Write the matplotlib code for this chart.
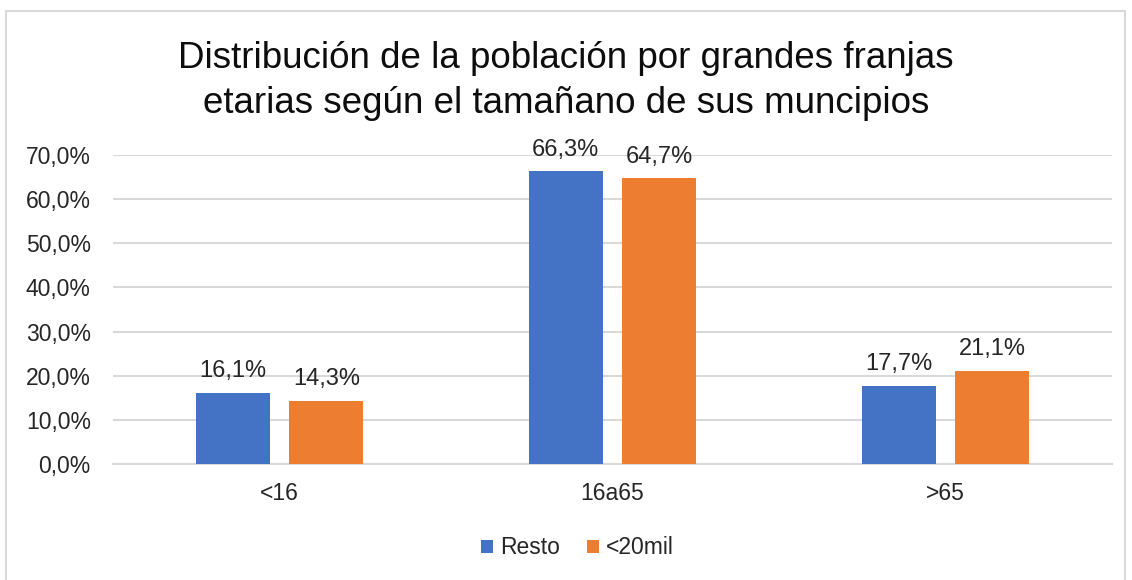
import numpy as np
import matplotlib
matplotlib.use("Agg")
import matplotlib.pyplot as plt
from matplotlib.patches import Rectangle

categories = ["<16", "16a65", ">65"]
resto = [16.1, 66.3, 17.7]
menos_20mil = [14.3, 64.7, 21.1]
series_names = ["Resto", "<20mil"]
yticks = [0, 10, 20, 30, 40, 50, 60, 70]

plt.rcParams['font.family'] = ['Liberation Sans', 'DejaVu Sans']

blue = "#4472C4"
orange = "#ED7D31"
grid_c = "#D9D9D9"
txt_c = "#262626"

fig = plt.figure(figsize=(11.32, 5.8), dpi=100)
# outer chart frame
fig.patches.append(Rectangle((6 / 1132, -0.01), 1119 / 1132, 1 - 11 / 580 + 0.01,
                             transform=fig.transFigure, fill=False,
                             edgecolor=grid_c, linewidth=1.5))

ax = fig.add_axes([113 / 1132, 1 - 464 / 580, (1112 - 113) / 1132, (464 - 155) / 580])

x = np.arange(len(categories))
w = 0.222
off = 0.141
b1 = ax.bar(x - off, resto, w, color=blue, label=series_names[0], zorder=3)
b2 = ax.bar(x + off, menos_20mil, w, color=orange, label=series_names[1], zorder=3)

for bars, vals in [(b1, resto), (b2, menos_20mil)]:
    for r, v in zip(bars, vals):
        ax.text(r.get_x() + r.get_width() / 2, v + 2.4, f"{v:.1f}%".replace(".", ","),
                ha="center", va="bottom", fontsize=17, color=txt_c)

ax.set_xlim(-0.5, 2.5)
ax.set_ylim(0, 70)
ax.set_yticks(yticks)
ax.set_yticklabels([f"{t:.1f}%".replace(".", ",") for t in yticks])
ax.set_xticks(x)
ax.set_xticklabels(categories)
ax.tick_params(axis="both", length=0, labelsize=16.5, colors=txt_c)
ax.tick_params(axis="y", pad=16)
ax.tick_params(axis="x", pad=13)
ax.yaxis.grid(True, color=grid_c, linewidth=1.5, zorder=0)
for s in ["top", "right", "left"]:
    ax.spines[s].set_visible(False)
ax.spines["bottom"].set_color(grid_c)
ax.spines["bottom"].set_linewidth(1.5)

fig.text(0.5, 1 - 81 / 580,
         "Distribución de la población por grandes franjas\netarias según el tamañano de sus muncipios",
         ha="center", va="center", fontsize=26.5, color="#0D0D0D", linespacing=1.38)

fig.legend(loc="center", bbox_to_anchor=(0.51, 1 - 548 / 580), ncol=2, frameon=False,
           fontsize=16.5, handlelength=0.5, handleheight=0.5, handletextpad=0.3,
           columnspacing=1.2, labelcolor=txt_c)

fig.savefig("out.png", dpi=100)
